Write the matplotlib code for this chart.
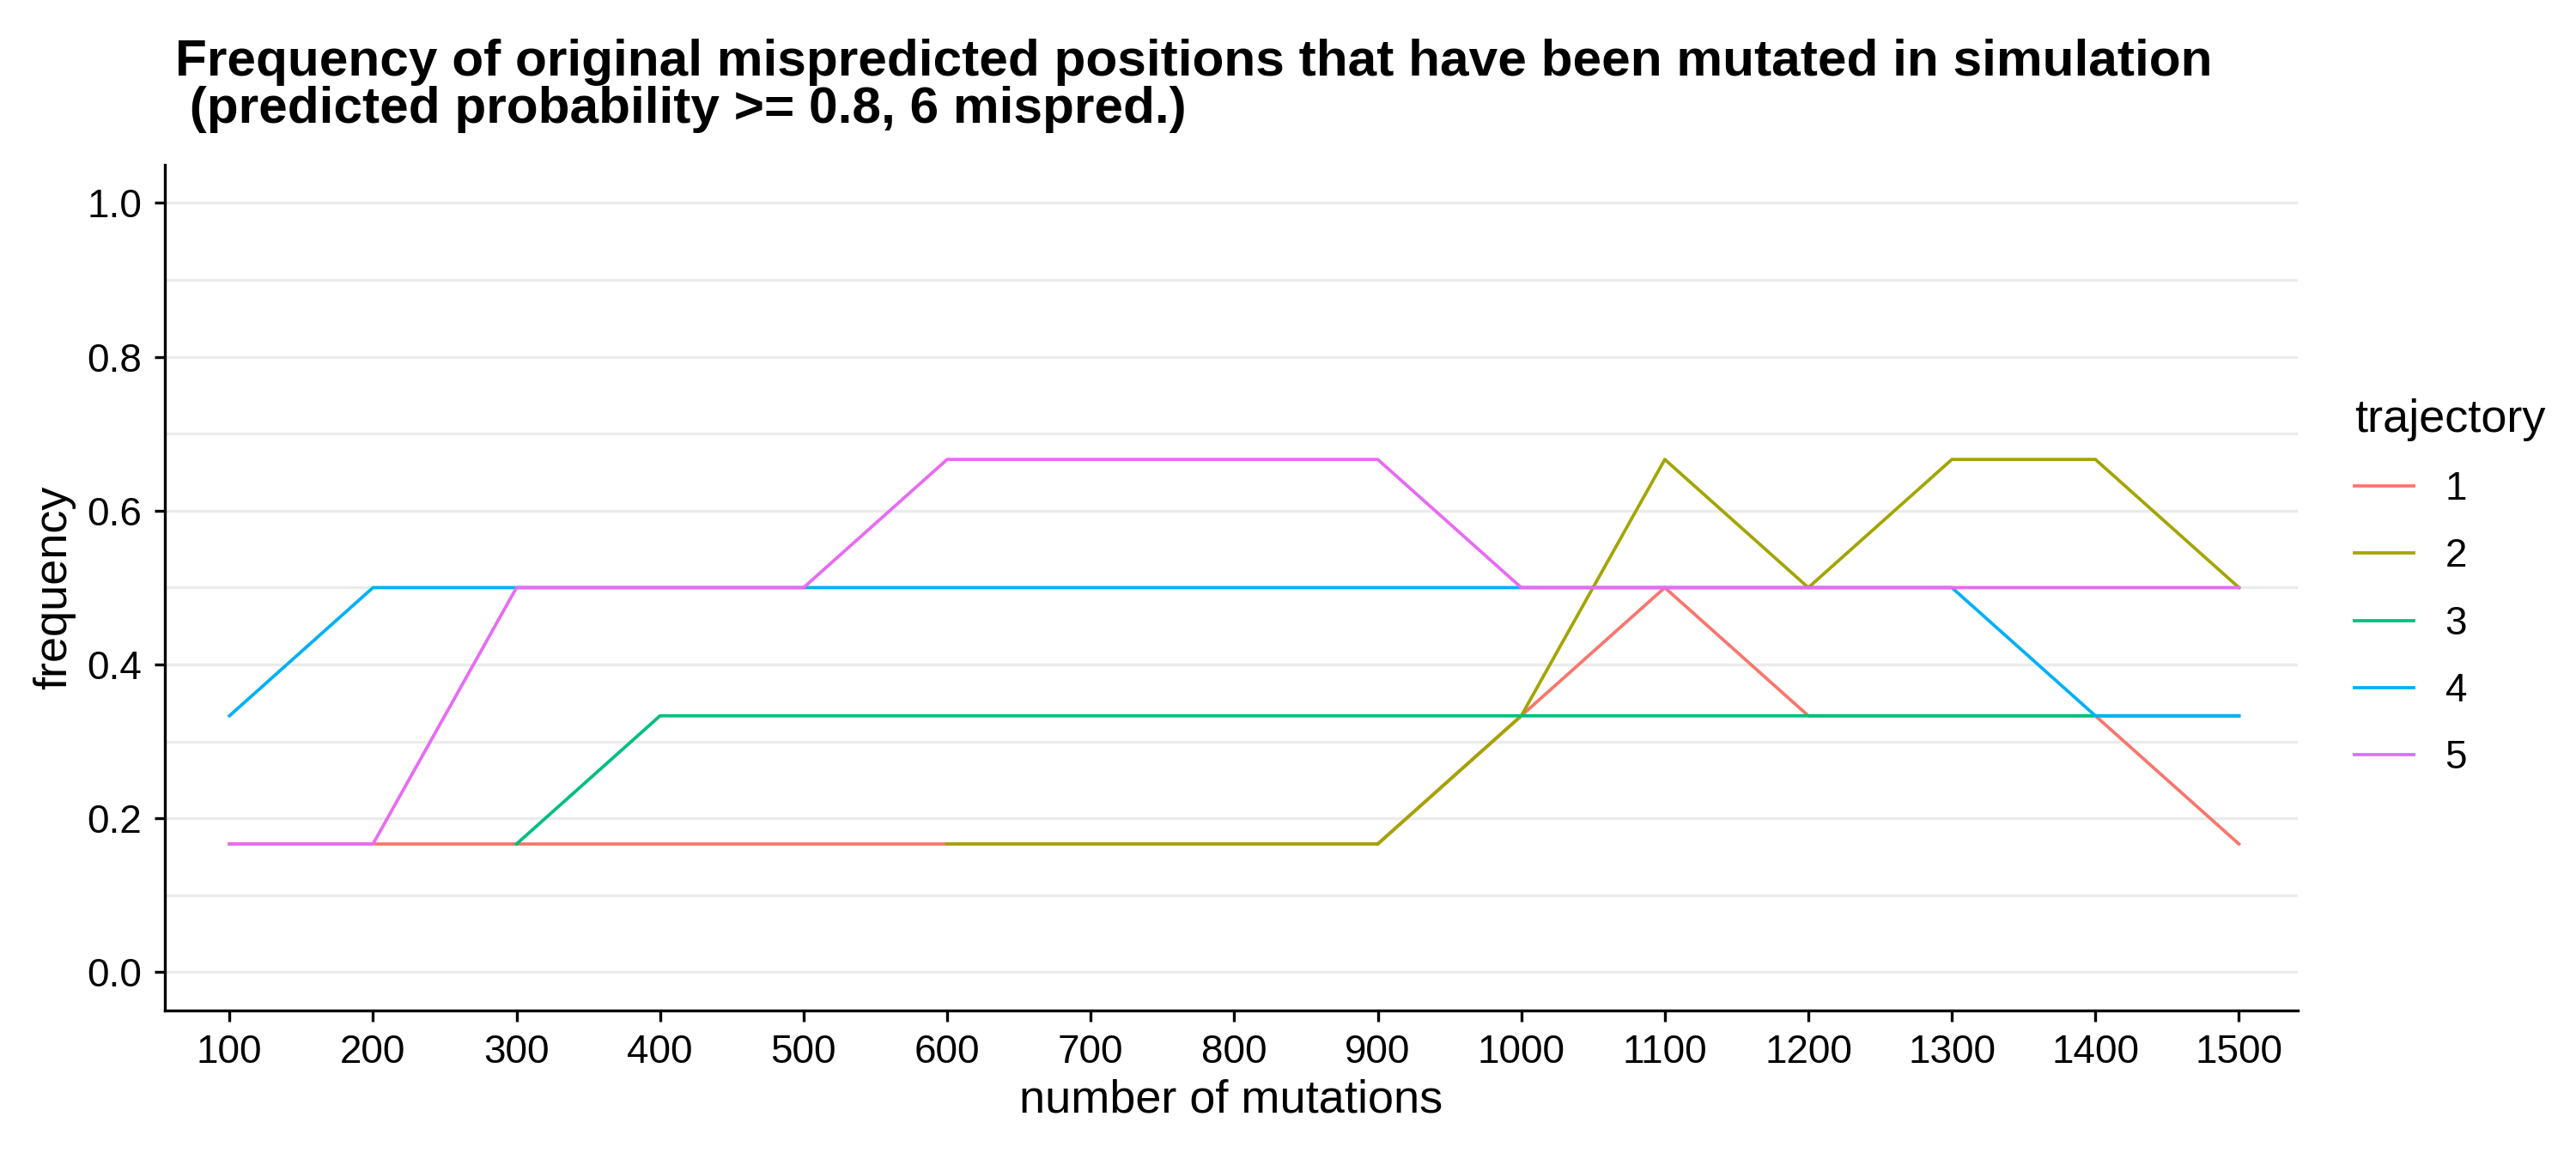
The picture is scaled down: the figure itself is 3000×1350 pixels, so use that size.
import numpy as np
import matplotlib
matplotlib.use("Agg")
import matplotlib.pyplot as plt

plt.rcParams['font.family'] = ['Liberation Sans', 'DejaVu Sans']

x = [100, 200, 300, 400, 500, 600, 700, 800, 900, 1000, 1100, 1200, 1300, 1400, 1500]
n = np.nan
t1 = [1, 1, 1, 1, 1, 1, 1, 1, 1, 2, 3, 2, 2, 2, 1]
t2 = [n, n, n, n, n, 1, 1, 1, 1, 2, 4, 3, 4, 4, 3]
t3 = [n, n, 1, 2, 2, 2, 2, 2, 2, 2, 2, 2, 2, 2, 2]
t4 = [2, 3, 3, 3, 3, 3, 3, 3, 3, 3, 3, 3, 3, 2, 2]
t5 = [1, 1, 3, 3, 3, 4, 4, 4, 4, 3, 3, 3, 3, 3, 3]
series = {"1": t1, "2": t2, "3": t3, "4": t4, "5": t5}
colors = ["#F8766D", "#A3A500", "#00BF7D", "#00B0F6", "#E76BF3"]

fig = plt.figure(figsize=(10, 4.5), dpi=300)
ax = fig.add_axes([0.064, 0.128, 0.828, 0.73])
for (name, vals), c in zip(series.items(), colors):
    ax.plot(x, np.array(vals, dtype=float) / 6, color=c, lw=0.9, label=name)

ax.set_xlim(55, 1541)
ax.set_ylim(-0.05, 1.05)
ax.set_xticks(x)
ax.set_yticks([0, 0.2, 0.4, 0.6, 0.8, 1.0])
ax.set_yticklabels(["0.0", "0.2", "0.4", "0.6", "0.8", "1.0"])
ax.set_yticks([0.1, 0.3, 0.5, 0.7, 0.9], minor=True)
ax.grid(axis='y', which='both', color='#EBEBEB', lw=0.8)
ax.set_axisbelow(True)
for s in ['top', 'right']:
    ax.spines[s].set_visible(False)
for s in ['left', 'bottom']:
    ax.spines[s].set_linewidth(0.8)
ax.tick_params(axis='both', labelsize=11, colors='black', length=3)
ax.tick_params(axis='y', which='minor', length=0)
ax.set_xlabel("number of mutations", fontsize=13, labelpad=2)
ax.set_ylabel("frequency", fontsize=13, labelpad=3)
fig.text(0.068, 0.885, "Frequency of original mispredicted positions that have been mutated in simulation\n (predicted probability >= 0.8, 6 mispred.)",
         fontsize=14.5, fontweight='bold', ha='left', va='bottom', linespacing=1.0)
leg = ax.legend(title="trajectory", loc='center left', bbox_to_anchor=(1.01, 0.5),
                frameon=False, fontsize=11, title_fontsize=13, handlelength=1.5,
                labelspacing=0.75)
leg._legend_box.align = "left"
fig.savefig("out.png", dpi=300)
